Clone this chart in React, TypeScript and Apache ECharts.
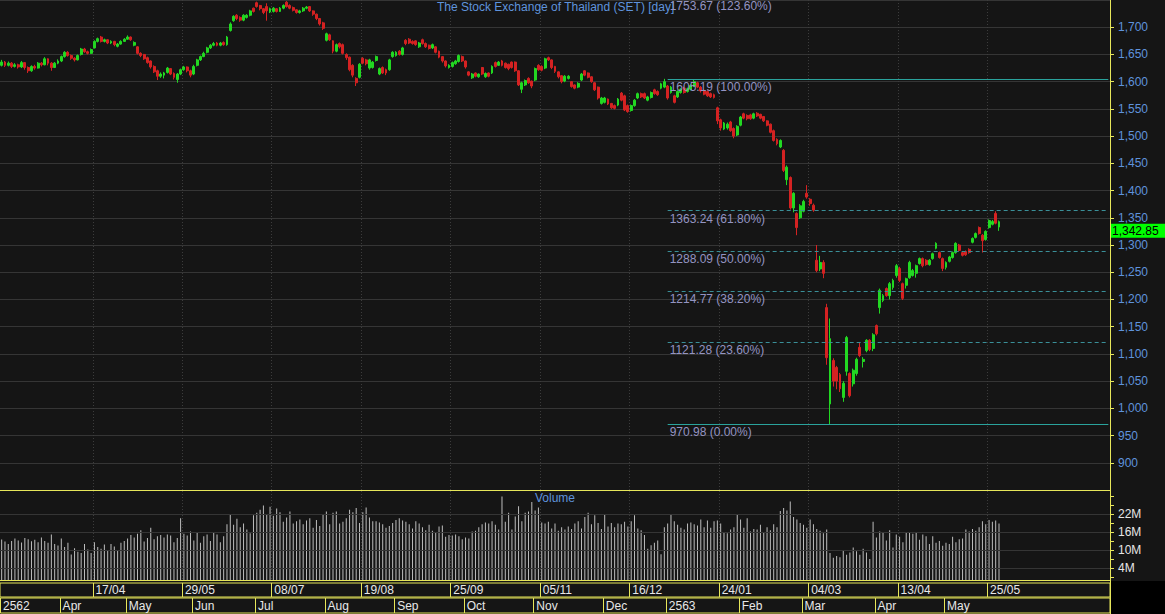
import React, { useEffect, useRef } from "react";
import * as echarts from "echarts";

const open = [
1630,1636,1630,1634,1628,1631,1627,1635,1626,1620,
1628,1625,1634,1631,1642,1634,1626,1634,1638,1646,
1654,1648,1643,1640,1650,1660,1655,1652,1662,1674,
1682,1674,1677,1671,1674,1665,1669,1674,1678,1682,
1667,1664,1652,1650,1644,1638,1628,1620,1610,1612,
1617,1624,1615,1604,1614,1622,1627,1620,1614,1630,
1640,1646,1654,1662,1667,1671,1667,1672,1668,1694,
1712,1722,1718,1713,1718,1722,1735,1745,1740,1734,
1738,1728,1729,1734,1729,1735,1746,1740,1736,1732,
1727,1730,1735,1738,1730,1724,1716,1708,1676,1686,
1675,1656,1670,1668,1650,1645,1630,1606,1608,1643,
1640,1625,1626,1639,1614,1626,1622,1622,1646,1648,
1656,1650,1676,1678,1674,1675,1664,1677,1670,1667,
1662,1664,1656,1646,1638,1626,1628,1633,1637,1646,
1638,1618,1607,1616,1609,1626,1609,1616,1616,1635,
1630,1638,1634,1632,1636,1636,1620,1586,1594,1606,
1601,1603,1630,1628,1625,1644,1640,1628,1618,1611,
1601,1606,1600,1594,1590,1603,1620,1616,1609,1598,
1590,1560,1562,1568,1560,1556,1557,1579,1574,1556,
1547,1556,1570,1578,1578,1566,1571,1585,1582,1588,
1590,1592,1580,1574,1572,1580,1588,1582,1586,1592,
1598,1590,1584,1582,1578,1576,1552,1530,1513,1515,
1526,1514,1502,1520,1541,1538,1539,1533,1542,1540,
1536,1528,1522,1510,1494,1480,1474,1420,1424,1368,
1358,1350,1362,1395,1384,1373,1272,1256,1268,1185,
1008,1088,1075,1062,1020,1068,1064,1045,1064,1112,
1086,1106,1125,1110,1152,1185,1198,1220,1207,1222,
1244,1257,1229,1226,1240,1244,1248,1266,1275,1272,
1264,1275,1294,1286,1275,1259,1270,1277,1286,1300,
1286,1288,1292,1305,1314,1332,1318,1310,1332,1338,
1358,1333
];

const close = [
1636,1630,1634,1628,1631,1627,1635,1626,1620,1628,
1625,1634,1631,1642,1634,1626,1634,1638,1646,1654,
1648,1643,1640,1648,1660,1655,1652,1659,1674,1679,
1674,1677,1671,1674,1668,1669,1674,1678,1682,1677,
1672,1652,1648,1642,1635,1627,1618,1610,1614,1616,
1625,1614,1608,1614,1622,1627,1620,1612,1628,1640,
1646,1652,1662,1667,1670,1667,1671,1668,1682,1706,
1720,1716,1713,1722,1722,1730,1729,1738,1734,1727,
1730,1734,1735,1729,1735,1740,1738,1735,1731,1727,
1730,1735,1737,1730,1724,1716,1706,1698,1688,1677,
1656,1668,1664,1652,1644,1622,1612,1598,1632,1634,
1633,1640,1636,1646,1624,1616,1616,1640,1654,1654,
1650,1662,1670,1671,1670,1668,1671,1670,1664,1661,
1668,1654,1645,1638,1629,1630,1635,1638,1648,1638,
1627,1612,1614,1610,1614,1614,1615,1610,1628,1628,
1636,1630,1626,1624,1626,1620,1594,1598,1602,1598,
1592,1624,1622,1621,1642,1640,1626,1619,1609,1600,
1610,1610,1591,1588,1597,1614,1612,1608,1600,1585,
1570,1570,1570,1559,1552,1551,1568,1566,1548,1545,
1556,1566,1578,1572,1570,1572,1580,1578,1576,1596,
1600,1570,1590,1562,1582,1586,1580,1587,1593,1600,
1590,1583,1577,1574,1572,1571,1528,1515,1524,1522,
1510,1500,1518,1535,1533,1532,1532,1541,1537,1533,
1528,1520,1507,1492,1486,1492,1437,1443,1368,1395,
1332,1372,1380,1388,1376,1364,1253,1268,1248,1093,
1128,1050,1050,1036,1046,1130,1023,1070,1090,1097,
1090,1125,1108,1135,1137,1217,1207,1207,1229,1235,
1262,1235,1202,1238,1268,1253,1262,1275,1262,1264,
1272,1284,1303,1277,1257,1268,1278,1286,1303,1290,
1281,1282,1286,1312,1321,1321,1308,1325,1345,1343,
1340,1342.85
];

const high = [
1640,1638,1637,1636,1634,1633,1638,1636,1628,1630,
1631,1636,1636,1645,1643,1636,1636,1641,1648,1656,
1656,1650,1645,1650,1662,1662,1657,1661,1676,1681,
1684,1679,1678,1676,1675,1671,1676,1680,1685,1683,
1674,1665,1654,1651,1646,1639,1630,1622,1617,1618,
1627,1625,1617,1616,1624,1629,1628,1622,1631,1642,
1648,1655,1664,1669,1673,1673,1673,1674,1684,1709,
1722,1724,1720,1724,1724,1732,1736,1747,1741,1735,
1744,1736,1737,1735,1737,1742,1748,1742,1738,1733,
1732,1737,1739,1739,1731,1725,1717,1710,1690,1688,
1676,1670,1672,1670,1652,1646,1632,1608,1634,1645,
1642,1642,1638,1648,1626,1628,1624,1642,1656,1656,
1658,1664,1678,1680,1676,1676,1673,1679,1672,1668,
1670,1665,1657,1647,1639,1632,1637,1640,1650,1648,
1639,1619,1616,1617,1615,1627,1617,1617,1630,1637,
1638,1640,1635,1633,1637,1637,1621,1600,1604,1608,
1602,1626,1632,1630,1644,1646,1641,1629,1619,1612,
1612,1612,1601,1595,1599,1616,1621,1617,1610,1599,
1591,1572,1572,1569,1561,1558,1570,1581,1576,1558,
1558,1568,1580,1580,1580,1574,1582,1587,1584,1598,
1605.19,1594,1592,1576,1584,1588,1590,1589,1595,1603,
1600,1592,1586,1584,1580,1578,1554,1532,1526,1525,
1528,1516,1520,1537,1543,1540,1541,1543,1544,1541,
1537,1529,1523,1512,1496,1494,1476,1446,1426,1397,
1360,1375,1383,1410,1386,1376,1300,1280,1272,1192,
1165,1092,1078,1065,1050,1133,1066,1073,1093,1120,
1094,1127,1127,1138,1154,1220,1210,1222,1232,1238,
1265,1260,1231,1240,1271,1256,1264,1277,1277,1274,
1274,1286,1305,1288,1277,1270,1280,1288,1305,1302,
1288,1290,1294,1314,1323,1334,1320,1327,1347,1346,
1362,1345
];

const low = [
1628,1627,1628,1625,1626,1624,1625,1622,1616,1618,
1622,1624,1628,1630,1630,1620,1625,1632,1636,1644,
1646,1640,1637,1639,1648,1653,1650,1651,1661,1672,
1672,1672,1669,1669,1665,1663,1668,1673,1677,1675,
1665,1650,1645,1640,1633,1624,1616,1603,1607,1606,
1615,1612,1604,1598,1612,1620,1617,1608,1612,1628,
1638,1645,1652,1660,1665,1665,1665,1666,1666,1692,
1710,1713,1710,1711,1716,1720,1727,1736,1731,1724,
1712,1726,1727,1727,1728,1733,1736,1733,1729,1725,
1725,1728,1733,1728,1721,1713,1703,1695,1674,1675,
1652,1654,1661,1650,1640,1619,1608,1592,1606,1632,
1630,1622,1624,1637,1612,1614,1612,1620,1644,1646,
1648,1648,1667,1669,1668,1666,1662,1668,1662,1659,
1660,1652,1643,1635,1626,1624,1626,1631,1635,1636,
1624,1610,1605,1608,1607,1612,1607,1608,1614,1626,
1629,1628,1624,1621,1624,1618,1592,1579,1592,1596,
1588,1601,1620,1619,1623,1638,1623,1616,1606,1597,
1599,1604,1589,1586,1588,1601,1610,1606,1598,1583,
1567,1558,1560,1557,1550,1549,1555,1564,1546,1543,
1545,1554,1568,1570,1568,1564,1569,1576,1574,1586,
1588,1567,1578,1560,1570,1578,1578,1580,1584,1590,
1588,1580,1575,1572,1570,1569,1522,1510,1511,1512,
1508,1496,1500,1518,1531,1529,1530,1531,1535,1531,
1526,1518,1505,1490,1483,1478,1434,1410,1365,1360,
1318,1348,1360,1385,1372,1361,1250,1252,1239,1080,
970.98,1040,1035,1030,1012,1060,1020,1040,1060,1094,
1075,1103,1105,1105,1134,1174,1195,1205,1200,1218,
1240,1232,1199,1220,1238,1242,1240,1264,1259,1262,
1262,1273,1292,1275,1252,1255,1268,1275,1284,1288,
1279,1280,1284,1303,1312,1319,1286,1308,1330,1336,
1338,1326
];

// volume in millions
const volume = [
13.5,12.8,12.0,13.0,13.8,13.2,12.5,14.0,13.6,12.9,13.4,12.6,14.2,13.0,12.4,15.2,12.0,11.5,
13.8,11.0,12.4,8.5,10.6,9.4,9.0,12.0,10.2,9.0,
12.6,11.0,10.4,11.8,9.8,12.0,11.2,10.0,12.4,13.0,
13.8,15.0,14.2,15.4,16.6,12.8,14.0,17.4,13.6,14.6,15.0,14.2,15.2,14.8,12.6,14.0,20.6,
15.4,14.8,16.2,13.2,15.8,12.4,14.6,15.2,13.0,16.0,15.2,12.6,14.6,
18.6,21.8,18.4,20.4,17.6,18.8,16.8,15.6,21.6,22.4,23.4,24.8,22.0,
24.4,21.4,23.8,22.6,19.4,20.8,22.8,
18.8,19.6,20.2,18.6,19.8,20.6,17.4,20.0,18.0,21.8,22.8,18.6,
22.4,22.8,18.8,19.4,20.6,23.4,22.6,24.0,19.0,22.6,24.2,
20.8,19.6,19.6,19.2,18.6,17.4,18.0,19.0,20.0,20.6,19.8,19.4,18.6,17.2,19.6,18.8,
17.6,16.6,18.4,16.4,15.8,17.8,18.2,14.4,15.0,14.8,
15.2,14.6,13.6,14.2,13.8,16.2,16.4,17.6,18.6,19.2,18.8,
19.6,18.4,16.8,27.8,19.4,22.4,16.8,
21.2,24.6,19.6,22.4,22.8,26.0,23.2,24.2,19.2,
18.8,19.4,17.2,18.8,16.4,17.6,16.8,17.8,17.0,18.8,19.6,17.2,21.0,22.4,18.6,21.6,19.0,17.0,
22.0,17.8,19.0,17.6,18.8,18.6,19.4,17.8,19.6,21.6,17.2,
16.6,15.0,10.4,11.6,12.4,13.2,8.6,
17.6,18.8,22.0,19.6,18.4,17.4,16.8,18.8,19.2,18.6,18.2,20.2,17.6,19.8,17.4,
19.6,19.8,18.8,16.0,15.6,16.8,17.6,21.8,
20.2,17.4,20.6,16.2,17.0,16.8,18.4,16.0,17.6,16.6,18.6,17.6,23.0,
24.0,23.2,26.2,
21.0,20.2,19.0,18.4,17.4,20.2,18.6,17.0,16.4,15.6,16.8,
9.0,7.4,8.0,7.6,10.0,8.4,9.2,10.8,9.6,8.4,10.4,9.2,7.0,
19.4,14.2,16.2,15.8,13.2,16.6,10.8,
15.2,14.4,12.6,16.0,15.8,15.4,16.0,13.4,15.2,14.6,12.0,14.6,12.4,13.0,11.4,
12.4,12.0,14.4,12.6,13.6,13.8,16.8,16.2,17.0,16.4,
17.6,19.6,18.6,20.0,19.4,19.8,18.8
];

const TOTAL_SLOTS = 335;
const weekIdx = [28, 55, 82, 109, 136, 163, 190, 217, 244, 271, 298];
const weekLabels = ["17/04", "29/05", "08/07", "19/08", "25/09", "05/11", "16/12", "24/01", "04/03", "13/04", "25/05"];
const monthIdx = [0, 18, 38, 58, 77, 98, 119, 140, 161, 182, 201, 223, 242, 264, 285];
const monthLabels = ["2562", "Apr", "May", "Jun", "Jul", "Aug", "Sep", "Oct", "Nov", "Dec", "2563", "Feb", "Mar", "Apr", "May"];
const volTickValues = [1, 4, 7, 10, 13, 16, 19, 22, 25, 28];
const volLabelValues = [4, 10, 16, 22];
const fibValues = [1753.67, 1605.19, 1363.24, 1288.09, 1214.77, 1121.28, 970.98];
const fibPcts = ["123.60%", "100.00%", "61.80%", "50.00%", "38.20%", "23.60%", "0.00%"];
const fibDashed = [false, false, true, true, true, true, false];
const fibStartIdx = 201;
const titleText = "The Stock Exchange of Thailand (SET) [day]";

const FONT = "'Liberation Sans', Arial, sans-serif";
const YEL = "#e6e65a";
const BG = "#151515";
const GREEN = "#22d822";
const RED = "#d42222";
const BLUE = "#5f93dc";
const FIBTXT = "#9494c2";
const GRIDC = "#353535";

const fmt = (v: number) => v.toLocaleString("en-US");

export default function App() {
  const ref = useRef<HTMLDivElement>(null);
  useEffect(() => {
    const chart = echarts.init(ref.current!, undefined, { renderer: "svg" });
    const cats = Array.from({ length: TOTAL_SLOTS }, (_, i) => String(i));
    const candleData = open.map((o, i) => [o, close[i], low[i], high[i]]);
    const isWeek = (i: number) => weekIdx.indexOf(i) >= 0;
    const isMonth = (i: number) => monthIdx.indexOf(i) >= 0;

    const fibLines = fibValues
      .map((v, k) => ({ v, k }))
      .filter((f) => f.v <= 1750)
      .map(({ v, k }) => [
        {
          coord: [cats[fibStartIdx], v],
          lineStyle: {
            color: fibDashed[k] ? "#3a8f98" : "#2aa39c",
            type: fibDashed[k] ? [4, 3] : "solid",
            width: 1,
          },
          label: {
            show: true,
            position: "insideStartBottom",
            formatter: `${v.toFixed(2)} (${fibPcts[k]})`,
            color: FIBTXT,
            fontSize: 12,
            fontFamily: FONT,
            distance: [2, 2],
          },
        },
        { coord: [cats[TOTAL_SLOTS - 1], v] },
      ]);

    const baseX = (gridIndex: number, extra: any) => ({
      type: "category",
      gridIndex,
      data: cats,
      boundaryGap: true,
      axisTick: { show: false },
      ...extra,
    });

    const option: any = {
      animation: false,
      backgroundColor: BG,
      textStyle: { fontFamily: FONT },
      title: [
        {
          text: titleText,
          left: 437,
          top: 1,
          padding: 0,
          textStyle: { color: BLUE, fontSize: 12, fontWeight: "normal", fontFamily: FONT },
        },
        {
          text: "Volume",
          left: 535,
          top: 492,
          padding: 0,
          textStyle: { color: BLUE, fontSize: 12, fontWeight: "normal", fontFamily: FONT },
        },
      ],
      grid: [
        { left: 0, top: 0, width: 1110, height: 490 },
        { left: 0, top: 491, width: 1110, height: 89 },
        { left: 0, top: 583, width: 1110, height: 14, show: true, borderColor: YEL, borderWidth: 1, backgroundColor: BG },
        { left: 0, top: 598, width: 1110, height: 15, show: true, borderColor: YEL, borderWidth: 1, backgroundColor: BG },
      ],
      xAxis: [
        baseX(0, {
          axisLine: { show: true, lineStyle: { color: YEL, width: 1 } },
          axisLabel: { show: false },
          splitLine: { show: true, interval: (i: number) => isWeek(i), lineStyle: { color: "#3c3c3c", type: [1, 2] } },
        }),
        baseX(1, {
          axisLine: { show: true, lineStyle: { color: YEL, width: 1 } },
          axisLabel: { show: false },
          splitLine: { show: true, interval: (i: number) => isWeek(i), lineStyle: { color: "#3c3c3c", type: [1, 2] } },
        }),
        baseX(2, {
          axisLine: { show: false },
          splitLine: { show: true, interval: (i: number) => isWeek(i), lineStyle: { color: YEL, width: 1 } },
          axisLabel: {
            show: true,
            inside: true,
            interval: (i: number) => isWeek(i),
            formatter: (_v: string, i: number) => weekLabels[weekIdx.indexOf(i)] ?? "",
            align: "left",
            color: "#e8e8e8",
            fontSize: 12,
            fontFamily: FONT,
            margin: 1,
            padding: [0, 0, 0, 1],
          },
        }),
        baseX(3, {
          axisLine: { show: false },
          splitLine: { show: true, interval: (i: number) => isMonth(i), lineStyle: { color: YEL, width: 1 } },
          axisLabel: {
            show: true,
            inside: true,
            interval: (i: number) => isMonth(i),
            formatter: (_v: string, i: number) => monthLabels[monthIdx.indexOf(i)] ?? "",
            align: "left",
            color: "#e8e8e8",
            fontSize: 12,
            fontFamily: FONT,
            margin: 1,
            padding: [0, 0, 0, 1],
          },
        }),
      ],
      yAxis: [
        {
          type: "value",
          gridIndex: 0,
          position: "right",
          min: 850,
          max: 1750,
          interval: 50,
          axisLine: { show: true, lineStyle: { color: YEL, width: 1 } },
          axisTick: { show: true, length: 4, lineStyle: { color: YEL } },
          axisLabel: {
            color: BLUE,
            fontSize: 12,
            fontFamily: FONT,
            margin: 8,
            showMinLabel: false,
            showMaxLabel: false,
            formatter: (v: number) => fmt(v),
          },
          splitLine: { show: true, lineStyle: { color: GRIDC, width: 1 } },
        },
        {
          type: "value",
          gridIndex: 1,
          position: "right",
          min: 0,
          max: 29.67,
          axisLine: { show: true, lineStyle: { color: YEL, width: 1 } },
          axisTick: { show: true, length: 4, lineStyle: { color: YEL }, customValues: volTickValues },
          axisLabel: {
            color: "#e6e6e6",
            fontSize: 12,
            fontFamily: FONT,
            margin: 8,
            customValues: volLabelValues,
            formatter: (v: number) => `${v}M`,
          },
          splitLine: { show: false },
        },
        { type: "value", gridIndex: 2, show: false, min: 0, max: 1 },
        { type: "value", gridIndex: 3, show: false, min: 0, max: 1 },
      ],
      series: [
        {
          type: "candlestick",
          xAxisIndex: 0,
          yAxisIndex: 0,
          data: candleData,
          barWidth: 2.4,
          itemStyle: {
            color: GREEN,
            color0: RED,
            borderColor: GREEN,
            borderColor0: RED,
            borderWidth: 1,
          },
          markLine: {
            silent: true,
            symbol: "none",
            animation: false,
            data: fibLines,
          },
        },
        {
          type: "bar",
          xAxisIndex: 1,
          yAxisIndex: 1,
          data: volume,
          barWidth: 1,
          itemStyle: { color: "#bdbdbd" },
          markLine: {
            silent: true,
            symbol: "none",
            animation: false,
            label: { show: false },
            lineStyle: { color: GRIDC, type: "solid", width: 1 },
            data: volLabelValues.map((v) => ({ yAxis: v })),
          },
        },
      ],
    };
    chart.setOption(option);

    const lastClose = close[close.length - 1];
    const yPrice = chart.convertToPixel({ yAxisIndex: 0 }, lastClose) as number;
    const fibTop = chart.convertToPixel({ gridIndex: 0 }, [cats[fibStartIdx], fibValues[0]]) as number[];

    chart.setOption({
      graphic: [
        { type: "rect", shape: { x: 1111, y: 581, width: 54, height: 33 }, style: { fill: "#000" }, z: 100 },
        { type: "line", shape: { x1: 1110.5, y1: 0, x2: 1110.5, y2: 614 }, style: { stroke: YEL, lineWidth: 1 }, z: 100 },
        { type: "rect", shape: { x: 1111, y: yPrice + 2, width: 54, height: 14 }, style: { fill: "#00ff00" }, z: 100 },
        {
          type: "text",
          x: 1112,
          y: yPrice + 9,
          style: { text: fmt(lastClose), fill: "#000", font: `12px ${FONT}`, verticalAlign: "middle", align: "left" },
          z: 101,
        },
        {
          type: "text",
          x: fibTop[0] + 2,
          y: fibTop[1] + 2,
          style: {
            text: `${fibValues[0].toFixed(2)} (${fibPcts[0]})`,
            fill: FIBTXT,
            font: `12px ${FONT}`,
            verticalAlign: "top",
            align: "left",
          },
          z: 50,
        },
      ],
    });

    return () => chart.dispose();
  }, []);

  return (
    <div
      ref={ref}
      style={{ position: "fixed", left: 0, top: 0, width: 1165, height: 614, background: BG }}
    />
  );
}
